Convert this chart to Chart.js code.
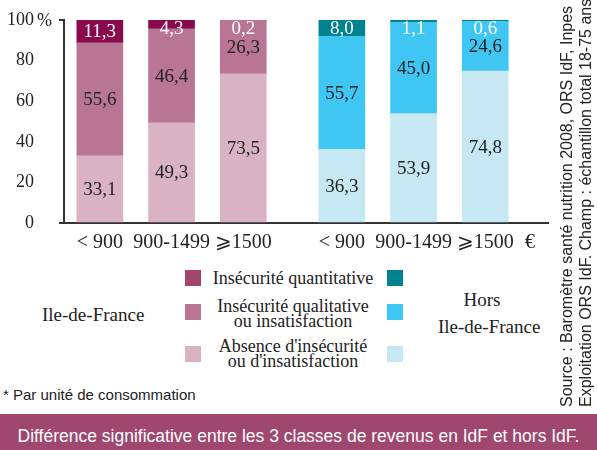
<!DOCTYPE html>
<html>
<head>
<meta charset="utf-8">
<script src="https://cdn.jsdelivr.net/npm/chart.js@4"></script>
<style>
  body{margin:0;width:597px;height:450px;overflow:hidden;position:relative;background:#fff;color:#222;}
  #box{position:absolute;left:0;top:0;width:597px;height:260px;}
  .serif{font-family:"Liberation Serif","Times New Roman",serif;position:absolute;white-space:nowrap;}
  .sw{position:absolute;width:16px;height:16px;}
  .lg{text-align:center;width:220px;left:183px;font-size:18px;}
  #note{position:absolute;left:3px;top:386px;font:15px "Liberation Sans",Arial,sans-serif;color:#222;}
  #banner{position:absolute;left:0;top:414px;width:597px;height:36px;background:#a0476f;color:#fff;
    font:17.5px "Liberation Sans",Arial,sans-serif;text-align:center;line-height:44px;}
  #src{position:absolute;left:557px;top:407px;width:460px;transform:rotate(-90deg);transform-origin:0 0;
    font:16px "Liberation Sans",Arial,sans-serif;line-height:19px;white-space:nowrap;color:#222;}
</style>
</head>
<body>
<div id="box"><canvas id="c"></canvas></div>

<div class="serif" style="left:42px;top:304px;font-size:19px;line-height:22px;">Ile-de-France</div>
<div class="sw" style="left:185px;top:270px;background:#a0466e"></div>
<div class="sw" style="left:185px;top:304px;background:#b97594"></div>
<div class="sw" style="left:185px;top:346px;background:#d9b3c4"></div>
<div class="sw" style="left:387px;top:270px;background:#00838f"></div>
<div class="sw" style="left:387px;top:304px;background:#40c6f3"></div>
<div class="sw" style="left:387px;top:346px;background:#c6e8f2"></div>
<div class="serif lg" style="top:268px;line-height:20px;">Insécurité quantitative</div>
<div class="serif lg" style="top:299px;line-height:15px;">Insécurité qualitative<br>ou insatisfaction</div>
<div class="serif lg" style="top:339px;line-height:15px;">Absence d'insécurité<br>ou d'insatisfaction</div>
<div class="serif" style="left:432px;width:100px;text-align:center;top:289px;font-size:19px;line-height:22px;">Hors</div>
<div class="serif" style="left:438px;width:100px;text-align:center;top:316px;font-size:19px;line-height:22px;">Ile-de-France</div>

<div id="note">* Par unité de consommation</div>
<div id="banner">Différence significative entre les 3 classes de revenus en IdF et hors IdF.</div>
<div id="src">Source : Baromètre santé nutrition 2008, ORS IdF, Inpes<br>Exploitation ORS IdF. Champ : échantillon total 18-75 ans</div>

<script>
// income classes (per consumption unit)
const incomeLabels = ['< 900', '900-1499', '\u2A7E1500'];
const unitLabel = '€';

// Ile-de-France (%)
const idfQuant   = [11.3, 4.3, 0.2];
const idfQual    = [55.6, 46.4, 26.3];
const idfAbsence = [33.1, 49.3, 73.5];

// Hors Ile-de-France (%)
const horsQuant   = [8.0, 1.1, 0.6];
const horsQual    = [55.7, 45.0, 24.6];
const horsAbsence = [36.3, 53.9, 74.8];

const yTicks = [0, 20, 40, 60, 80, 100];

// slot layout on the category axis (blank slots make the gaps)
const nSlots = 55, idfSlots = [4, 12, 20], horsSlots = [31, 39, 47], euroSlot = 52;

const labels = Array(nSlots).fill('');
idfSlots.forEach((s, i) => labels[s] = incomeLabels[i]);
horsSlots.forEach((s, i) => labels[s] = incomeLabels[i]);
labels[euroSlot] = unitLabel;

function series(a, b){
  const out = Array(nSlots).fill(null);
  idfSlots.forEach((s, i) => out[s] = a[i]);
  horsSlots.forEach((s, i) => out[s] = b[i]);
  return out;
}
function colors(ci, ch){
  return labels.map((_, i) => horsSlots.includes(i) ? ch : ci);
}

const serif = '"Liberation Serif","Times New Roman",serif';

const valueLabels = {
  id: 'valueLabels',
  afterDatasetsDraw(chart){
    const ctx = chart.ctx;
    ctx.save();
    ctx.font = '19px ' + serif;
    ctx.textAlign = 'center';
    ctx.textBaseline = 'middle';
    chart.data.datasets.forEach((ds, di) => {
      chart.getDatasetMeta(di).data.forEach((el, i) => {
        const v = ds.data[i];
        if (v == null) return;
        let y = (el.y + el.base) / 2;
        if (ds.small) y = Math.max(y, el.y + 8);
        ctx.fillStyle = ds.labelColor;
        ctx.fillText(v.toFixed(1).replace('.', ','), el.x, y + 1);
      });
    });
    // "%" after the 100 tick
    const ys = chart.scales.y;
    ctx.font = '18px ' + serif;
    ctx.textAlign = 'left';
    ctx.fillStyle = '#222';
    ctx.fillText('%', ys.right - 27, ys.getPixelForValue(100) + 1);
    ctx.restore();
  }
};

new Chart(document.getElementById('c'), {
  type: 'bar',
  data: {
    labels,
    datasets: [
      { label: "Absence d'insécurité ou d'insatisfaction", data: series(idfAbsence, horsAbsence),
        backgroundColor: colors('#d9b3c4', '#c6e8f2'), labelColor: '#222' },
      { label: 'Insécurité qualitative ou insatisfaction', data: series(idfQual, horsQual),
        backgroundColor: colors('#b97594', '#40c6f3'), labelColor: '#222' },
      { label: 'Insécurité quantitative', data: series(idfQuant, horsQuant),
        backgroundColor: colors('#880a4c', '#00838f'), labelColor: '#fff', small: true }
    ]
  },
  options: {
    responsive: true, maintainAspectRatio: false, animation: false,
    layout: { padding: { top: 20, right: 49, bottom: 0, left: 0 } },
    datasets: { bar: { barThickness: 46, borderWidth: 0 } },
    plugins: { legend: { display: false }, tooltip: { enabled: false } },
    scales: {
      x: {
        stacked: true, offset: false,
        grid: { display: false, drawTicks: false },
        border: { display: true, color: '#333', width: 2 },
        ticks: { autoSkip: false, maxRotation: 0, padding: 8, color: '#222', font: { family: serif, size: 20 } },
        afterFit(s){ s.height = 37; }
      },
      y: {
        stacked: true, min: 0, max: 100,
        afterBuildTicks(s){ s.ticks = yTicks.map(v => ({ value: v })); },
        grid: { drawOnChartArea: false, drawTicks: true, tickLength: 5,
                color: c => (c.tick && (c.tick.value === 0 || c.tick.value === 100)) ? '#333' : 'rgba(0,0,0,0)', lineWidth: 2 },
        border: { display: true, color: '#333', width: 2 },
        ticks: { padding: 25, color: '#222', font: { family: serif, size: 18 } },
        afterFit(s){ s.width = 64; s.paddingTop = 0; s.paddingBottom = 0; }
      }
    }
  },
  plugins: [valueLabels]
});
</script>
</body>
</html>
